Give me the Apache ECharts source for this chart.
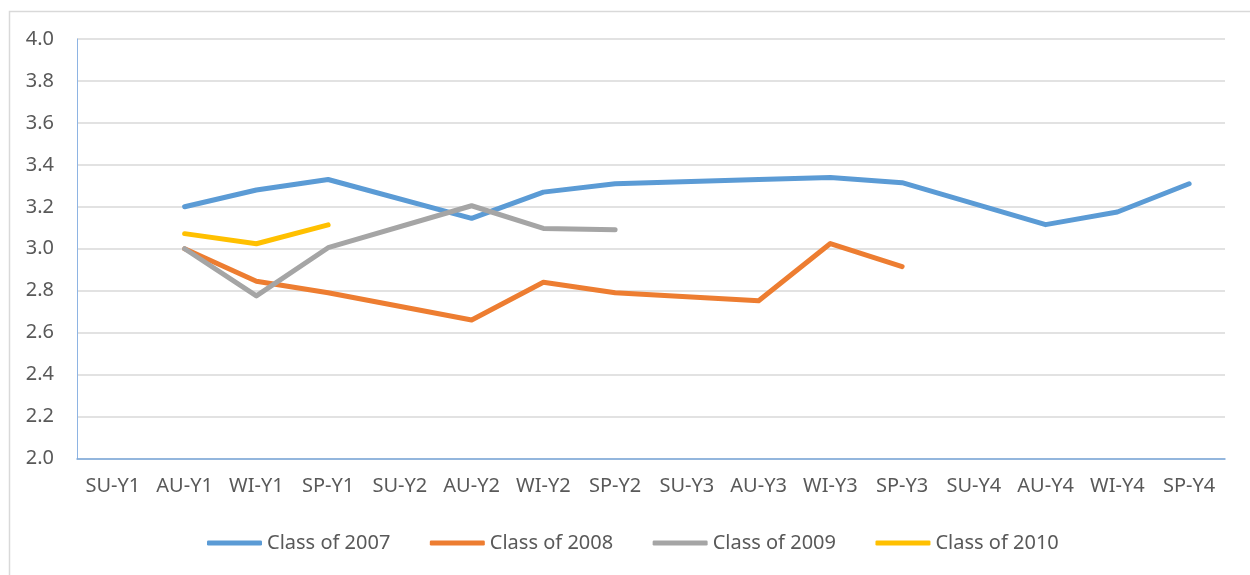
<!DOCTYPE html>
<html>
<head>
<meta charset="utf-8">
<script src="https://cdn.jsdelivr.net/npm/echarts@6/dist/echarts.min.js"></script>
<style>
html,body{margin:0;padding:0;background:#fff;}
#chart{width:1250px;height:575px;}
</style>
</head>
<body>
<div id="chart"></div>
<script>
var categories = ['SU-Y1','AU-Y1','WI-Y1','SP-Y1','SU-Y2','AU-Y2','WI-Y2','SP-Y2','SU-Y3','AU-Y3','WI-Y3','SP-Y3','SU-Y4','AU-Y4','WI-Y4','SP-Y4'];
var class2007 = [null, 3.20, 3.28, 3.33, null, 3.145, 3.27, 3.31, null, 3.33, 3.34, 3.315, null, 3.115, 3.175, 3.31];
var class2008 = [null, 3.00, 2.845, 2.79, null, 2.66, 2.84, 2.79, null, 2.752, 3.025, 2.915, null, null, null, null];
var class2009 = [null, 3.00, 2.775, 3.005, null, 3.205, 3.097, 3.09, null, null, null, null, null, null, null, null];
var class2010 = [null, 3.072, 3.024, 3.114, null, null, null, null, null, null, null, null, null, null, null, null];
var seriesNames = ['Class of 2007','Class of 2008','Class of 2009','Class of 2010'];
var seriesColors = ['#5B9BD5','#ED7D31','#A5A5A5','#FFC000'];
var yTicks = [2.0, 4.0, 0.2];

var FONT = 'Noto Sans';
var chart = echarts.init(document.getElementById('chart'));

function mk(name, data, color) {
  return {
    name: name, type: 'line', data: data, connectNulls: true,
    symbol: 'none', showSymbol: false,
    lineStyle: {color: color, width: 5, cap: 'round', join: 'round'},
    itemStyle: {color: color},
    emphasis: {disabled: true}
  };
}

chart.setOption({
  animation: false,
  backgroundColor: '#fff',
  graphic: [{
    type: 'rect', left: 7, top: 9,
    shape: {width: 1300, height: 620},
    style: {fill: 'none', stroke: '#D9D9D9', lineWidth: 1.5}
  }],
  grid: {left: 77, right: 25, top: 39, bottom: 116.5},
  legend: {
    left: 207, top: 533, padding: 0,
    icon: 'roundRect',
    itemWidth: 55, itemHeight: 5, itemGap: 39.5,
    textStyle: {fontFamily: FONT, fontSize: 20, color: '#595959'},
    data: seriesNames
  },
  xAxis: {
    type: 'category', data: categories, boundaryGap: true,
    axisLine: {show: true, lineStyle: {color: '#7AA8DC', width: 1.5}},
    axisTick: {show: false},
    axisLabel: {fontFamily: FONT, fontSize: 20, color: '#595959', margin: 18, interval: 0},
    splitLine: {show: false}
  },
  yAxis: {
    type: 'value', min: yTicks[0], max: yTicks[1], interval: yTicks[2],
    axisLine: {show: true, lineStyle: {color: '#8EB4E3', width: 1}},
    axisTick: {show: false},
    axisLabel: {fontFamily: FONT, fontSize: 20, color: '#595959', margin: 23,
      formatter: function(v){ return v.toFixed(1); }},
    splitLine: {show: true, lineStyle: {color: '#D9D9D9', width: 1.5}}
  },
  series: [
    mk(seriesNames[0], class2007, seriesColors[0]),
    mk(seriesNames[1], class2008, seriesColors[1]),
    mk(seriesNames[2], class2009, seriesColors[2]),
    mk(seriesNames[3], class2010, seriesColors[3])
  ]
});
</script>
</body>
</html>
